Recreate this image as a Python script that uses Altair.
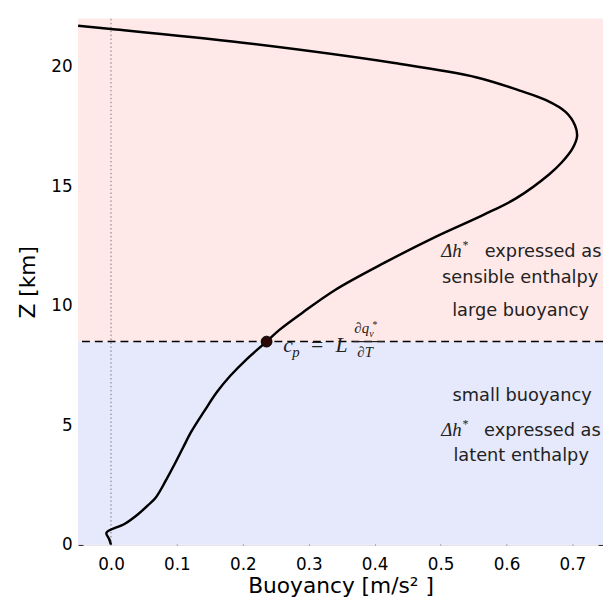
import altair as alt
import pandas as pd

# ---- data ----
z_km = [0.0, 0.25, 0.5, 0.88, 1.28, 1.65, 1.98, 2.68, 3.35, 4.05, 4.74, 5.57, 6.4, 7.07, 7.77,
        8.5, 9.0, 9.7, 10.66, 11.8, 12.85, 13.8, 14.5, 15.5, 16.0, 16.57, 17.07, 17.54,
        18.1, 18.6, 19.0, 19.55, 20.15, 21.0, 21.58, 21.71]
buoyancy = [0.0, -0.003, -0.007, 0.021, 0.041, 0.056, 0.068, 0.083, 0.096, 0.109, 0.122, 0.141,
            0.161, 0.181, 0.206, 0.236, 0.256, 0.29, 0.34, 0.415, 0.49, 0.565, 0.615,
            0.665, 0.684, 0.70, 0.707, 0.704, 0.69, 0.66, 0.62, 0.555, 0.43, 0.2, 0.0, -0.05]

x_ticks = [0.0, 0.1, 0.2, 0.3, 0.4, 0.5, 0.6, 0.7]
y_ticks = [0, 5, 10, 15, 20]
x_domain = [-0.05, 0.7464]
y_domain = [0, 22]
z_cross = 8.5
b_cross = 0.236

regions = ["latent", "sensible"]
region_lo = [0, 8.5]
region_hi = [8.5, 22]
region_col = ["#E6E9FC", "#FFE8E8"]

# annotation texts (data units)
sans_center_txt = ["sensible enthalpy", "large buoyancy", "small buoyancy", "latent enthalpy"]
sans_center_x = [0.6207, 0.6214, 0.6237, 0.6222]
sans_center_y = [10.94, 9.58, 6.03, 3.51]

sans_left_txt = ["expressed as", "expressed as"]
sans_left_x = [0.567, 0.566]
sans_left_y = [12.05, 4.54]

ital_txt = ["Δh", "*", "Δh", "*", "c", "p", "L", "∂q", "v", "*", "∂T"]
ital_x = [0.501, 0.5323, 0.501, 0.5323, 0.2614, 0.2749, 0.3407, 0.3692, 0.3916, 0.3961, 0.3737]
ital_y = [12.05, 12.38, 4.54, 4.87, 8.05, 7.84, 8.05, 8.87, 8.71, 9.08, 7.84]
ital_fs = [19, 12, 19, 12, 22, 15, 22, 15, 10, 10, 15]

eq_txt = ["="]
eq_x = [0.3033]
eq_y = [8.05]

frac_x = [0.3677]
frac_x2 = [0.4156]
frac_y = [8.5]

# ---- tables ----
curve = pd.DataFrame({"z": z_km, "b": buoyancy, "i": list(range(len(z_km)))})
bg = pd.DataFrame({"r": regions, "lo": region_lo, "hi": region_hi, "col": region_col,
                   "x0": [x_domain[0]] * 2, "x1": [x_domain[1]] * 2})
dot = pd.DataFrame({"b": [b_cross], "z": [z_cross]})
sc = pd.DataFrame({"t": sans_center_txt, "x": sans_center_x, "y": sans_center_y})
sl = pd.DataFrame({"t": sans_left_txt, "x": sans_left_x, "y": sans_left_y})
it = pd.DataFrame({"t": ital_txt, "x": ital_x, "y": ital_y, "fs": ital_fs})
eq = pd.DataFrame({"t": eq_txt, "x": eq_x, "y": eq_y})
fr = pd.DataFrame({"x": frac_x, "x2": frac_x2, "y": frac_y})
dummy = pd.DataFrame({"x": [0.0], "y": [0.0]})

xs = alt.Scale(domain=x_domain, nice=False, zero=False)
ys = alt.Scale(domain=y_domain, nice=False, zero=False)

SANS = "DejaVu Sans"
SERIF = "Liberation Serif"

bg_layer = alt.Chart(bg).mark_rect(stroke=None).encode(
    x=alt.X("x0:Q", scale=xs, axis=None), x2="x1:Q",
    y=alt.Y("lo:Q", scale=ys, axis=None), y2="hi:Q",
    color=alt.Color("col:N", scale=None),
)

vline = alt.Chart(dummy).mark_rule(color="#777777", strokeWidth=1, strokeDash=[1.5, 2.5]).encode(
    x=alt.X("x:Q", scale=xs, axis=None)
)

hline = alt.Chart(dot).mark_rule(color="black", strokeWidth=1.5, strokeDash=[8, 5]).encode(
    y=alt.Y("z:Q", scale=ys, axis=None)
)

x_axis = alt.Axis(values=x_ticks, format=".1f", orient="bottom", offset=-5, tickSize=5,
                  domain=False, grid=False, labelFont=SANS, labelFontSize=17, labelColor="black",
                  tickColor="black", labelPadding=12, labelOverlap=False, labelBound=False,
                  title="Buoyancy  [m/s² ]", titleFont=SANS, titleFontSize=22,
                  titleFontWeight="normal", titleColor="black", titlePadding=3)
y_axis = alt.Axis(values=y_ticks, orient="left", offset=-5, tickSize=5, domain=False, grid=False,
                  labelFont=SANS, labelFontSize=17, labelColor="black", tickColor="black",
                  labelPadding=6, labelOverlap=False, labelBound=False,
                  title="Z [km]", titleFont=SANS, titleFontSize=22, titleFontWeight="normal",
                  titleColor="black", titlePadding=12)

line = alt.Chart(curve).mark_line(color="black", strokeWidth=2.5, interpolate="catmull-rom",
                                  clip=True).encode(
    x=alt.X("b:Q", scale=xs, axis=x_axis),
    y=alt.Y("z:Q", scale=ys, axis=y_axis),
    order="i:Q",
)

pt = alt.Chart(dot).mark_circle(size=120, color="#2a0808", opacity=1, stroke="black",
                                strokeWidth=1).encode(
    x=alt.X("b:Q", scale=xs, axis=None), y=alt.Y("z:Q", scale=ys, axis=None)
)

t_sc = alt.Chart(sc).mark_text(font=SANS, fontSize=18, align="center", baseline="alphabetic",
                               color="#222222").encode(
    x=alt.X("x:Q", scale=xs, axis=None), y=alt.Y("y:Q", scale=ys, axis=None), text="t:N"
)
t_sl = alt.Chart(sl).mark_text(font=SANS, fontSize=18, align="left", baseline="alphabetic",
                               color="#222222", clip=True).encode(
    x=alt.X("x:Q", scale=xs, axis=None), y=alt.Y("y:Q", scale=ys, axis=None), text="t:N"
)
t_it = alt.Chart(it).mark_text(font=SERIF, fontStyle="italic", align="left",
                               baseline="alphabetic", color="#222222").encode(
    x=alt.X("x:Q", scale=xs, axis=None), y=alt.Y("y:Q", scale=ys, axis=None), text="t:N",
    size=alt.Size("fs:Q", scale=None),
)
t_eq = alt.Chart(eq).mark_text(font=SERIF, fontSize=22, align="left", baseline="alphabetic",
                               color="#222222").encode(
    x=alt.X("x:Q", scale=xs, axis=None), y=alt.Y("y:Q", scale=ys, axis=None), text="t:N"
)
t_fr = alt.Chart(fr).mark_rule(color="#222222", strokeWidth=1.2).encode(
    x=alt.X("x:Q", scale=xs, axis=None), x2="x2:Q", y=alt.Y("y:Q", scale=ys, axis=None)
)

top_axis = alt.Axis(values=x_ticks, orient="top", offset=-5, tickSize=5, domain=False,
                    grid=False, labels=False, tickColor="black", title=None)
right_axis = alt.Axis(values=y_ticks, orient="right", offset=-5, tickSize=5, domain=False,
                      grid=False, labels=False, tickColor="black", title=None)
ghost = alt.Chart(dummy).mark_point(opacity=0).encode(
    x=alt.X("x:Q", scale=xs, axis=top_axis), y=alt.Y("y:Q", scale=ys, axis=right_axis)
)

chart = alt.layer(bg_layer, vline, hline, line, pt, t_sc, t_sl, t_it, t_eq, t_fr, ghost).resolve_axis(
    x="independent", y="independent"
).properties(
    width=532, height=533,
    autosize=alt.AutoSizeParams(type="none"),
    padding={"left": 71, "top": 7, "right": 0, "bottom": 56},
).configure_view(stroke="black", strokeWidth=1).configure(background="white")

chart.save("out.html", embed_options={"renderer": "svg", "actions": False})
